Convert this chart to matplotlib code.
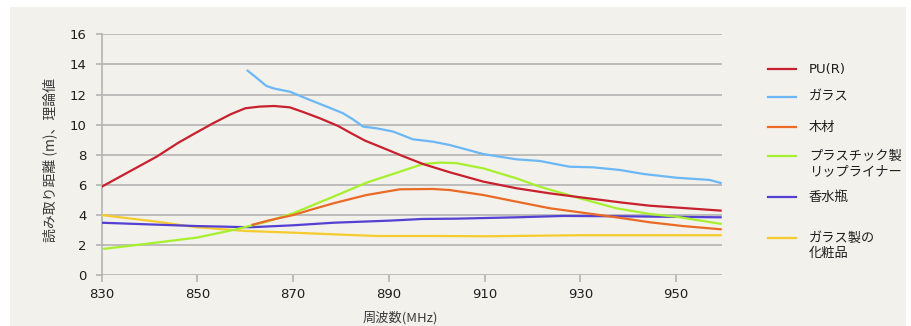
import matplotlib
matplotlib.use("Agg")
import matplotlib.pyplot as plt
from matplotlib.lines import Line2D
from matplotlib.patches import Rectangle

plt.rcParams['font.family'] = ['DejaVu Sans', 'Noto Sans CJK JP']
JP = ['Noto Sans CJK JP', 'DejaVu Sans']
LAT = ['DejaVu Sans', 'Noto Sans CJK JP']

# ---- data ----
pu_x = [830, 835, 841.5, 846, 849.5, 853.3, 857, 860, 863, 866, 869.3, 872, 875.6, 879.4,
        882, 885, 889.8, 893, 897.1, 902.7, 909.7, 916.6, 923.6, 929.9, 938.9, 944.5, 951.4, 959.5]
pu_y = [5.88, 6.75, 7.88, 8.8, 9.43, 10.1, 10.7, 11.09, 11.2, 11.24, 11.15, 10.85, 10.42, 9.91,
        9.45, 8.94, 8.32, 7.9, 7.39, 6.84, 6.22, 5.78, 5.44, 5.18, 4.82, 4.62, 4.47, 4.29]

glass_x = [860.3, 862, 864.4, 866, 869.3, 873.5, 877, 880.4, 882.5, 884.6, 887.4, 890.9, 895,
           899.2, 902.7, 909.7, 916.6, 921.5, 927.7, 932.6, 938.3, 943.1, 950, 957, 959.5]
glass_y = [13.63, 13.2, 12.57, 12.4, 12.19, 11.64, 11.2, 10.76, 10.35, 9.87, 9.76, 9.54, 9.03,
           8.87, 8.65, 8.05, 7.70, 7.59, 7.21, 7.17, 6.99, 6.73, 6.48, 6.33, 6.11]

wood_x = [861.3, 865, 870, 874, 878.4, 885.3, 892.3, 899.2, 902.7, 909.7, 916.6, 923.6, 929.9,
          937.5, 944.5, 951.4, 959.5]
wood_y = [3.34, 3.65, 4.0, 4.38, 4.78, 5.33, 5.71, 5.73, 5.66, 5.33, 4.89, 4.45, 4.18,
          3.85, 3.52, 3.27, 3.05]

plastic_x = [830.3, 840.1, 849.8, 857.5, 864.5, 870, 878.4, 885.3, 892.3, 897.1, 900.6, 904,
             909.7, 916.6, 921.5, 929.9, 937.5, 944.5, 950, 959.5]
plastic_y = [1.75, 2.12, 2.50, 3.01, 3.56, 4.12, 5.22, 6.15, 6.88, 7.39, 7.48, 7.45,
             7.1, 6.44, 5.88, 5.11, 4.45, 4.07, 3.89, 3.41]

perfume_x = [830, 849.8, 861, 870, 878.4, 890.2, 897, 904, 916.6, 926.4, 937.5, 959.5]
perfume_y = [3.49, 3.27, 3.19, 3.32, 3.49, 3.63, 3.74, 3.76, 3.85, 3.94, 3.92, 3.85]

cosm_x = [830, 841.5, 849.8, 860.3, 870, 878.4, 887.4, 900, 910, 930, 959.5]
cosm_y = [4.0, 3.56, 3.19, 2.94, 2.83, 2.72, 2.61, 2.61, 2.59, 2.66, 2.66]

series_labels = ['PU(R)', 'ガラス', '木材', 'プラスチック製\nリップライナー', '香水瓶', 'ガラス製の\n化粧品']
series_colors = ['#c8202e', '#6cb8f6', '#ea6a26', '#a6f02e', '#5440d2', '#f5cb2e']

x_ticks = [830, 850, 870, 890, 910, 930, 950]
y_ticks = [0, 2, 4, 6, 8, 10, 12, 14, 16]

# ---- figure ----
W, H = 911, 326
fig = plt.figure(figsize=(W / 100, H / 100), dpi=100)
fig.patch.set_facecolor('white')
bg = '#f2f1eb'
fig.add_artist(Rectangle((10 / W, 0), (906 - 10) / W, (H - 7) / H,
                         transform=fig.transFigure, facecolor=bg, edgecolor='none', zorder=-10))

ax = fig.add_axes([101.7 / W, 1 - 275.3 / H, (721.7 - 101.7) / W, (275.3 - 34.3) / H])
ax.set_facecolor(bg)
ax.patch.set_alpha(0)

grid_c = '#b3b3b3'
data = [(pu_x, pu_y), (glass_x, glass_y), (wood_x, wood_y),
        (plastic_x, plastic_y), (perfume_x, perfume_y), (cosm_x, cosm_y)]
order = [5, 4, 3, 2, 0, 1]
for i in order:
    xs, ys = data[i]
    ax.plot(xs, ys, color=series_colors[i], lw=1.6, solid_capstyle='butt', zorder=3)

ax.set_xlim(830, 959.5)
ax.set_ylim(0, 16)
ax.set_xticks(x_ticks)
ax.set_yticks(y_ticks)
ax.set_xticklabels([str(v) for v in x_ticks])
ax.set_yticklabels([str(v) for v in y_ticks])
ax.yaxis.grid(True, color=grid_c, lw=1.2, zorder=1)
ax.set_axisbelow(True)
for s in ['top', 'right', 'bottom']:
    ax.spines[s].set_visible(False)
ax.spines['left'].set_color(grid_c)
ax.spines['left'].set_linewidth(1.2)
ax.tick_params(axis='y', length=4, width=1.2, color=grid_c, pad=7, labelsize=9.5, labelcolor='#1e1e1e')
ax.tick_params(axis='x', length=5, width=1.2, color=grid_c, pad=4, labelsize=9.5, labelcolor='#1e1e1e')
for t in ax.get_xticklabels() + ax.get_yticklabels():
    t.set_fontweight('medium')

fig.text(400 / W, 1 - 318 / H, '周波数(MHz)', ha='center', va='center', fontsize=9.5,
         color='#3a3a3a', family=JP)
fig.text(50 / W, 1 - 160 / H, '読み取り距離 (m)、理論値', ha='center', va='center',
         rotation=90, fontsize=10, color='#3a3a3a', family=JP)

# ---- legend (manual) ----
leg_line_y = [69, 97, 127, 156, 197, 238]
for lab, col, ly in zip(series_labels, series_colors, leg_line_y):
    fy = 1 - ly / H
    fig.add_artist(Line2D([768 / W, 796 / W], [fy, fy], transform=fig.transFigure,
                          color=col, lw=1.6))
    for k, part in enumerate(lab.split('\n')):
        fam = LAT if part.isascii() else JP
        fig.text(809 / W, 1 - (ly + k * 15.5) / H, part, ha='left', va='center',
                 fontsize=9.5, color='#1e1e1e', family=fam)

fig.savefig('out.png', dpi=100, facecolor=fig.get_facecolor())
